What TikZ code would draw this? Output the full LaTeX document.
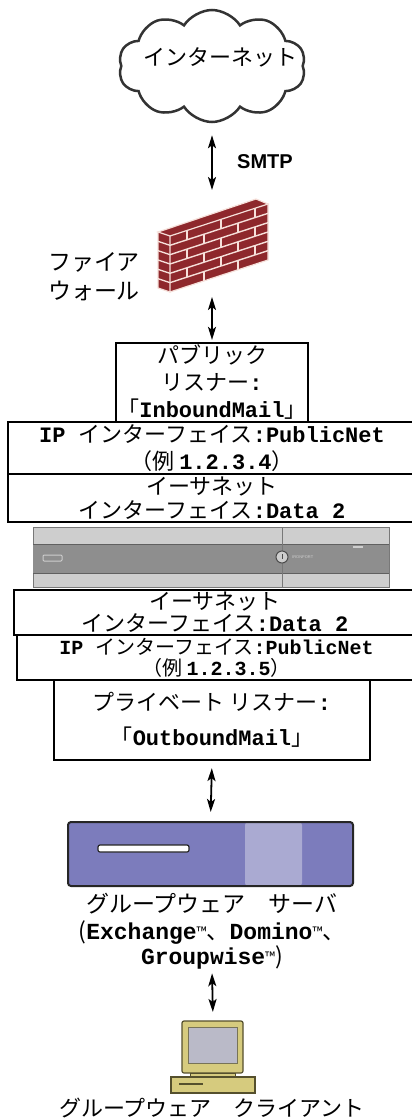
\documentclass[tikz,border=0pt]{standalone}
\usepackage{fontspec}
\setmainfont{Noto Sans CJK JP}
\newfontfamily\monofam{Liberation Mono}
\newfontfamily\arialfam{Liberation Sans}
\usetikzlibrary{arrows.meta,shapes.symbols}

\newcommand{\mono}[1]{{\monofam\bfseries #1}}
\newcommand{\jsize}[2]{\fontsize{#1}{#2}\selectfont}
\newcommand{\tmark}{\raisebox{2pt}{\fontsize{14}{14}\selectfont ™}}
\lineskiplimit=-50pt

\definecolor{brick}{RGB}{142,40,44}
\definecolor{mortar}{RGB}{246,224,218}
\definecolor{esalight}{RGB}{206,206,206}
\definecolor{esadark}{RGB}{142,142,142}
\definecolor{esaedge}{RGB}{120,120,120}
\definecolor{gwpurple}{RGB}{124,124,188}
\definecolor{gwlight}{RGB}{170,170,210}
\definecolor{pccase}{RGB}{214,203,126}
\definecolor{pcscreen}{RGB}{186,186,200}
\definecolor{pcedge}{RGB}{85,80,45}

\begin{document}
\begin{tikzpicture}[x=1pt, y=1pt, >={Stealth[length=13pt,width=8pt,inset=3pt]},
  link/.style={<->, line width=1.8pt},
  ifbox/.style={draw, line width=2.2pt, inner sep=0pt, align=center},
  icon/.style={inner sep=0pt, outer sep=0pt}]

\useasboundingbox (0,0) rectangle (412,-1120);
\clip (0,0) rectangle (412,-1120);

% internet
\node[cloud, cloud puffs=10, cloud puff arc=115, aspect=1.65, draw=black!80,
  line width=2.5pt, minimum width=187pt, minimum height=112pt, inner sep=0pt]
  (inet) at (212,-66) {};
\node[font=\jsize{22}{26}] (inetlabel) at (220,-57) {インターネット};
\node[font=\arialfam\bfseries\jsize{20}{24}] (smtp) at (265,-162) {SMTP};

% firewall
\node[icon, minimum width=112pt, minimum height=96pt] (wall) at (212,-244) {};
\filldraw[brick, draw=mortar, line width=1.2pt]
  (158,-232) -- (256,-199) -- (268,-204) -- (170,-236) -- cycle
  (170,-236) -- (268,-204) -- (268,-260) -- (170,-292) -- cycle
  (158,-232) -- (170,-236) -- (170,-292) -- (158,-288) -- cycle;
\begin{scope}[shift={(170,-236)}, yslant=0.3265]
  \foreach \k in {1,...,5}
    \draw[mortar, line width=1.4pt] (0,-\k*9.33) -- (98,-\k*9.33);
  \foreach \k in {0,2,4}
    \foreach \x in {17,51,85}
      \draw[mortar, line width=1.4pt] (\x,-\k*9.33) -- ++(0,-9.33);
  \foreach \k in {1,3,5}
    \foreach \x in {34,68}
      \draw[mortar, line width=1.4pt] (\x,-\k*9.33) -- ++(0,-9.33);
\end{scope}
\foreach \k in {1,...,5}
  \draw[mortar, line width=1.4pt] (158,-232-\k*9.33) -- (170,-236-\k*9.33);
\node[font=\jsize{23}{29}, align=center] (walllabel) at (94,-277) {ファイア\\ウォール};

% public side
\node[ifbox, font=\jsize{22}{27}, minimum width=192pt, minimum height=79pt]
  (publistener) at (212,-382.5) {パブリック\\リスナー\mono{:}\\「\mono{InboundMail}」};
\node[ifbox, font=\jsize{22}{27}, minimum width=408pt, minimum height=52pt]
  (pubip) at (212,-448) {\mono{IP }インターフェイス\mono{:PublicNet}\\（例 \mono{1.2.3.4}）};
\node[ifbox, font=\jsize{22}{24}, minimum width=408pt, minimum height=48pt]
  (pubeth) at (212,-498) {イーサネット\\インターフェイス\mono{:Data 2}};

% appliance
\draw[esaedge, fill=esalight, line width=1pt] (33,-527) rectangle (389,-587);
\fill[esadark] (33,-544) rectangle (389,-573);
\draw[esaedge!80!black, line width=0.8pt] (33,-544) -- (389,-544) (33,-573) -- (389,-573);
\draw[esaedge, line width=1pt] (282,-527) -- (282,-587);
\draw[esalight, line width=1pt, rounded corners=1pt] (43,-555) rectangle (62,-561);
\draw[black!70, fill=esalight, line width=1pt] (282,-557) circle (6);
\draw[black!70, line width=0.8pt] (282,-554) -- (282,-559);
\node[font=\arialfam\jsize{4}{4}, text=esalight, anchor=west, inner sep=0pt]
  (esalogo) at (292,-557) {IRONPORT};
\draw[esalight, line width=1.2pt] (353,-547) -- (363,-547);

% private side
\node[ifbox, font=\jsize{22}{22}, minimum width=402pt, minimum height=45pt]
  (priveth) at (215,-612.5) {イーサネット\\インターフェイス\mono{:Data 2}};
\node[ifbox, font=\jsize{20}{21}, minimum width=399pt, minimum height=45pt]
  (privip) at (216.5,-657.5) {\mono{IP }インターフェイス\mono{:PublicNet}\\（例 \mono{1.2.3.5}）};
\node[ifbox, font=\jsize{22}{35}, minimum width=316pt, minimum height=80pt]
  (privlistener) at (212,-720) {プライベート リスナー\mono{:}\\「\mono{OutboundMail}」};

% groupware server
\node[draw=black!85, fill=gwpurple, line width=2pt, rounded corners=3pt,
  minimum width=285pt, minimum height=64pt, inner sep=0pt,
  path picture={\fill[gwlight] ([xshift=177pt]path picture bounding box.south west)
    rectangle ([xshift=234pt]path picture bounding box.north west);}]
  (gwserver) at (210.5,-854) {};
\draw[black!85, fill=white, line width=1.2pt, rounded corners=2pt] (98,-845) rectangle (189,-852);
\node[font=\jsize{23}{27}, align=center, inner sep=0pt] (gwlabel) at (212,-931)
  {グループウェア　サーバ\\(\mono{Exchange}\tmark、\mono{Domino}\tmark、\\[-2pt]\mono{Groupwise}\tmark)};

% client
\node[icon, minimum width=84pt, minimum height=72pt] (client) at (213,-1057) {};
\draw[pcedge, fill=pccase, line width=1.2pt, rounded corners=2pt] (182,-1021) rectangle (243,-1073);
\draw[pcedge!80, fill=pcscreen, line width=1pt] (188,-1027) rectangle (237,-1063);
\draw[pcedge, fill=pccase, line width=1pt] (190,-1073) rectangle (235,-1077);
\draw[pcedge, fill=pccase, line width=1.2pt] (171,-1077) rectangle (255,-1093);
\draw[pcedge, line width=2pt] (179,-1084) -- (203,-1084);
\node[font=\jsize{22}{26}] (clientlabel) at (212,-1108) {グループウェア　クライアント};

% connections
\draw[link, shorten <=12pt, shorten >=6pt] (inet.south) -- (wall.north);
\draw[link, shorten <=5pt, shorten >=2pt] (wall.south) -- (publistener.north);
\draw[link, shorten <=7pt, shorten >=9pt] (privlistener.south) -- (gwserver.north);
\draw[link, shorten <=4pt, shorten >=9pt] (gwlabel.south) -- (client.north);

\end{tikzpicture}
\end{document}
